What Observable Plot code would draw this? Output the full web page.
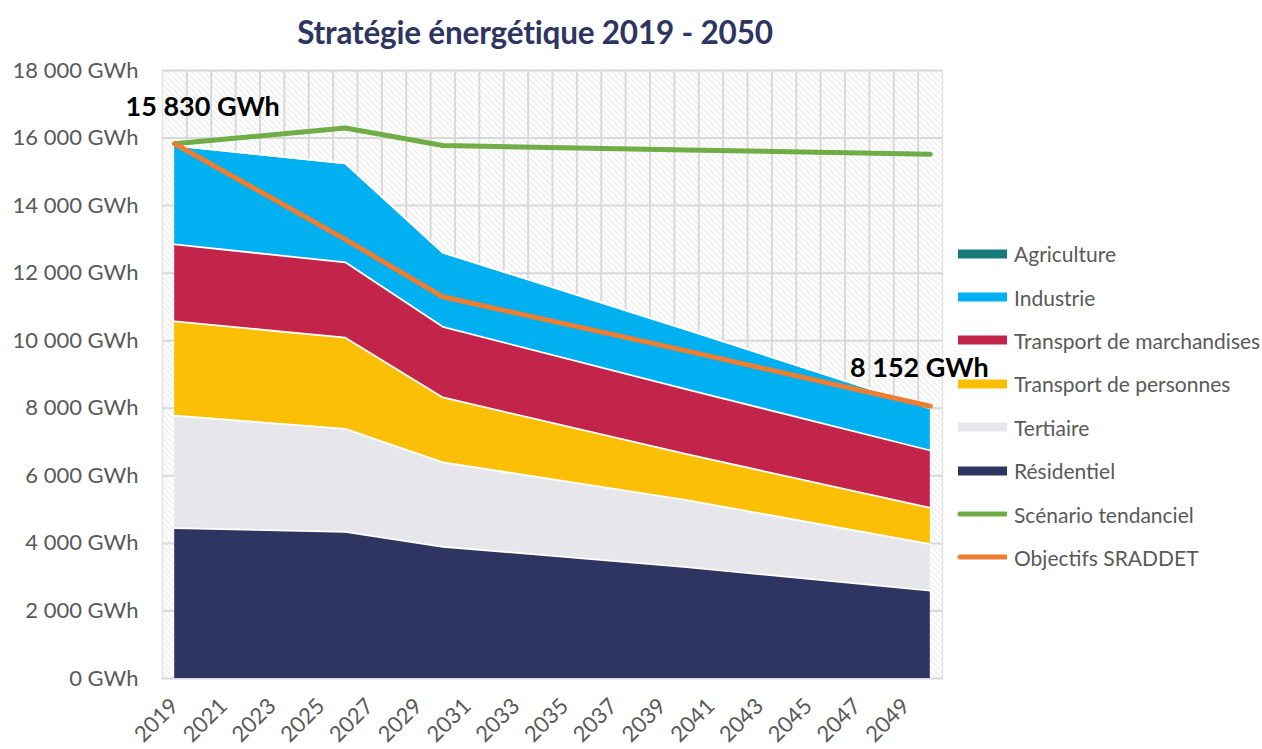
<!DOCTYPE html>
<html>
<head>
<meta charset="utf-8">
<script src="https://cdn.jsdelivr.net/npm/d3@7"></script>
<script src="https://cdn.jsdelivr.net/npm/@observablehq/plot@0.6"></script>
<style>
  body { margin: 0; background: #fff; font-family: Lato, "Noto Sans", sans-serif; }
  #wrap { position: relative; width: 1262px; height: 749px; overflow: hidden; }
  #title { height: 60px; width: 1070px; text-align: center; font-weight: 700; font-size: 31.5px;
           color: #2e3561; line-height: 64px; letter-spacing: -0.2px; }
  #legend { position: absolute; left: 957px; top: 232px; }
  .item { height: 43.4px; display: flex; align-items: center; font-size: 21px; color: #595959; }
  .sw { width: 50px; margin-right: 7px; }
</style>
</head>
<body>
<div id="wrap">
  <div id="title">Stratégie énergétique 2019 - 2050</div>
  <div id="chart"></div>
  <div id="legend"></div>
</div>
<script>
// ---- data ----
const years = [2019, 2026, 2030, 2040, 2050];
const residentiel = [4450, 4340, 3900, 3300, 2600];
const tertiaire = [3330, 3050, 2500, 1980, 1380];
const transportPersonnes = [2790, 2700, 1920, 1360, 1070];
const transportMarchandises = [2280, 2230, 2090, 1920, 1700];
const industrie = [2930, 2930, 2200, 1770, 1250];
const agriculture = [0, 0, 0, 0, 0];
const scenarioTendanciel = [15830, 16300, 15780, 15650, 15520];
const objectifsSRADDET = [15830, 13000, 11300, 9700, 8060];
const labelYears = [2019, 2050];
const labelValues = [15830, 8152];
const yTicks = [0, 2000, 4000, 6000, 8000, 10000, 12000, 14000, 16000, 18000];
const xTicks = [2019, 2021, 2023, 2025, 2027, 2029, 2031, 2033, 2035, 2037, 2039, 2041, 2043, 2045, 2047, 2049];

const seriesNames = ["Résidentiel", "Tertiaire", "Transport de personnes", "Transport de marchandises", "Industrie", "Agriculture"];
const seriesValues = [residentiel, tertiaire, transportPersonnes, transportMarchandises, industrie, agriculture];
const seriesColors = ["#2e3561", "#e7e6eb", "#fbbf05", "#c3244a", "#00b0f0", "#187a7c"];

const long = [];
seriesNames.forEach((s, i) => years.forEach((y, j) => long.push({series: s, year: y, value: seriesValues[i][j]})));
const trend = years.map((y, j) => ({year: y, value: scenarioTendanciel[j]}));
const sraddet = years.map((y, j) => ({year: y, value: objectifsSRADDET[j]}));
const labels = labelYears.map((y, j) => ({year: y, value: objectifsSRADDET[years.indexOf(y)], label: labelValues[j]}));

const fr = d3.formatLocale({decimal: ",", thousands: " ", grouping: [3], currency: ["", ""]});
const fmt = fr.format(",");
const gridX = d3.range(xTicks[0] + 0.5, years[years.length - 1], 1);

const hatch = () => {
  const defs = d3.create("svg:defs");
  const p = defs.append("pattern").attr("id", "hatch").attr("patternUnits", "userSpaceOnUse")
    .attr("width", 6).attr("height", 6);
  p.append("rect").attr("width", 6).attr("height", 6).attr("fill", "#ffffff");
  p.append("path").attr("d", "M-1,-1L7,7M-1,5L1,7M5,-1L7,1").attr("stroke", "#dcdcdc").attr("stroke-width", 1);
  return defs.node();
};

const chart = Plot.plot({
  width: 1262,
  height: 689,
  marginLeft: 162,
  marginRight: 320,
  marginTop: 10,
  marginBottom: 71,
  style: {fontFamily: "Lato, 'Noto Sans', sans-serif", fontSize: "22px", color: "#595959", overflow: "visible"},
  x: {domain: [2018.5, 2050.5], label: null},
  y: {domain: [0, 18000], label: null},
  color: {domain: seriesNames, range: seriesColors},
  marks: [
    hatch,
    Plot.frame({fill: "url(#hatch)", stroke: "#e3e3e3", strokeWidth: 1.5}),
    Plot.ruleX(gridX, {stroke: "#d9d9d9", strokeWidth: 2}),
    Plot.gridY(yTicks, {stroke: "#d9d9d9", strokeOpacity: 1, strokeWidth: 2}),
    Plot.areaY(long, {x: "year", y: "value", z: "series", fill: "series", order: null}),
    Plot.lineY(long, Plot.stackY2({x: "year", y: "value", z: "series", order: null, stroke: "white", strokeWidth: 1.8})),
    Plot.line(trend, {x: "year", y: "value", stroke: "#70ad47", strokeWidth: 5, strokeLinecap: "round", strokeLinejoin: "round"}),
    Plot.line(sraddet, {x: "year", y: "value", stroke: "#ed7d31", strokeWidth: 5, strokeLinecap: "round", strokeLinejoin: "round"}),
    Plot.axisY(yTicks, {tickSize: 0, tickPadding: 24, tickFormat: d => fmt(d) + " GWh", fontSize: 22, label: null}),
    Plot.axisX(xTicks, {tickSize: 0, tickPadding: 24, tickRotate: -45, tickFormat: d => String(d), fontSize: 22, label: null}),
    Plot.text(labels.slice(0, 1), {x: "year", y: "value", text: d => fmt(d.label) + " GWh", fill: "black",
      fontWeight: "bold", fontSize: 27, dx: 28, dy: -36}),
    Plot.text(labels.slice(1), {x: "year", y: "value", text: d => fmt(d.label) + " GWh", fill: "black",
      fontWeight: "bold", fontSize: 27, dx: -11, dy: -38})
  ]
});
document.getElementById("chart").appendChild(chart);

// legend
const legendItems = [
  ...["Agriculture", "Industrie", "Transport de marchandises", "Transport de personnes", "Tertiaire", "Résidentiel"]
    .map(n => ({name: n, color: seriesColors[seriesNames.indexOf(n)], kind: "area"})),
  {name: "Scénario tendanciel", color: "#70ad47", kind: "line"},
  {name: "Objectifs SRADDET", color: "#ed7d31", kind: "line"}
];
const leg = d3.select("#legend");
legendItems.forEach(it => {
  const row = leg.append("div").attr("class", "item");
  const s = row.append("svg").attr("class", "sw").attr("width", 52).attr("height", 12);
  if (it.kind === "area") s.append("rect").attr("x", 1).attr("y", 1.5).attr("width", 50).attr("height", 9).attr("fill", it.color);
  else s.append("line").attr("x1", 3).attr("x2", 49).attr("y1", 6).attr("y2", 6).attr("stroke", it.color)
    .attr("stroke-width", 5).attr("stroke-linecap", "round");
  row.append("span").text(it.name);
});
</script>
</body>
</html>
